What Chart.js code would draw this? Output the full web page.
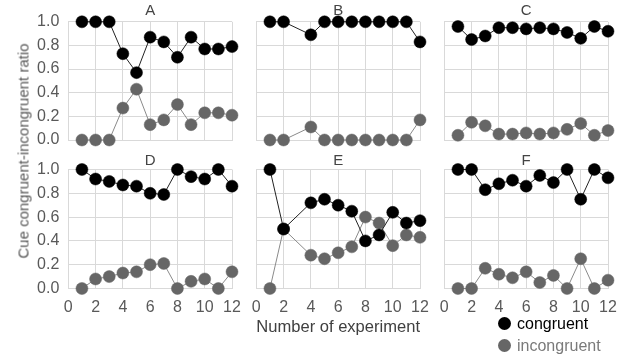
<!DOCTYPE html>
<html>
<head>
<meta charset="utf-8">
<script src="https://cdn.jsdelivr.net/npm/chart.js@4.4.1/dist/chart.umd.min.js"></script>
<style>
  body { margin: 0; width: 629px; height: 356px; background: #fff; position: relative; overflow: hidden;
         font-family: "Liberation Sans", Arial, sans-serif; }
  canvas { position: absolute; }
  .ytitle { position: absolute; left: 23px; top: 151px; transform: translate(-50%, -50%) rotate(-90deg);
            white-space: nowrap; font-size: 15px; color: #595959; }
  .legend-item { position: absolute; left: 498px; height: 16px; line-height: 16px; font-size: 16px; white-space: nowrap; }
  .legend-item span { display: inline-block; width: 13px; height: 13px; border-radius: 50%; vertical-align: -1px; margin-right: 6px; }
</style>
</head>
<body>
<canvas id="panelA" width="234" height="160" style="left:18px;top:0px"></canvas>
<canvas id="panelB" width="234" height="160" style="left:206px;top:0px"></canvas>
<canvas id="panelC" width="234" height="160" style="left:394px;top:0px"></canvas>
<canvas id="panelD" width="234" height="189" style="left:18px;top:150px"></canvas>
<canvas id="panelE" width="234" height="189" style="left:206px;top:150px"></canvas>
<canvas id="panelF" width="234" height="189" style="left:394px;top:150px"></canvas>
<div class="ytitle">Cue congruent-incongruent ratio</div>
<div id="legend"></div>
<script>
const experiments = [1, 2, 3, 4, 5, 6, 7, 8, 9, 10, 11, 12];
const xTicks = [0, 2, 4, 6, 8, 10, 12];
const yTicks = [0, 0.2, 0.4, 0.6, 0.8, 1.0];
const seriesNames = ["congruent", "incongruent"];
const panelNames = ["A", "B", "C", "D", "E", "F"];

const congruentA = [1, 1, 1, 0.73, 0.57, 0.87, 0.83, 0.70, 0.87, 0.77, 0.77, 0.79];
const incongruentA = [0, 0, 0, 0.27, 0.43, 0.13, 0.17, 0.30, 0.13, 0.23, 0.23, 0.21];
const congruentB = [1, 1, null, 0.89, 1, 1, 1, 1, 1, 1, 1, 0.83];
const incongruentB = [0, 0, null, 0.11, 0, 0, 0, 0, 0, 0, 0, 0.17];
const congruentC = [0.96, 0.85, 0.88, 0.95, 0.95, 0.94, 0.95, 0.94, 0.91, 0.86, 0.96, 0.92];
const incongruentC = [0.04, 0.15, 0.12, 0.05, 0.05, 0.06, 0.05, 0.06, 0.09, 0.14, 0.04, 0.08];
const congruentD = [1, 0.92, 0.90, 0.87, 0.86, 0.80, 0.79, 1, 0.94, 0.92, 1, 0.86];
const incongruentD = [0, 0.08, 0.10, 0.13, 0.14, 0.20, 0.21, 0, 0.06, 0.08, 0, 0.14];
const congruentE = [1, 0.5, null, 0.72, 0.75, 0.70, 0.65, 0.40, 0.45, 0.64, 0.55, 0.57];
const incongruentE = [0, 0.5, null, 0.28, 0.25, 0.30, 0.35, 0.60, 0.55, 0.36, 0.45, 0.43];
const congruentF = [1, 1, 0.83, 0.88, 0.91, 0.86, 0.95, 0.89, 1, 0.75, 1, 0.93];
const incongruentF = [0, 0, 0.17, 0.12, 0.09, 0.14, 0.05, 0.11, 0, 0.25, 0, 0.07];

const pointColors = ["#000000", "#666666"];
const lineColors = ["#222222", "#8a8a8a"];
const textColors = ["#000000", "#7a7a7a"];
const gridColor = "#d9d9d9";
const tickColor = "#595959";

Chart.defaults.font.family = '"Liberation Sans", Arial, sans-serif';
Chart.defaults.color = tickColor;

function toPoints(values) {
  return experiments.map((x, i) => ({ x: x, y: values[i] }));
}

function makeDataset(index, values) {
  return {
    label: seriesNames[index],
    data: toPoints(values),
    borderColor: lineColors[index],
    borderWidth: 1,
    pointRadius: 6,
    pointHoverRadius: 6,
    pointBorderWidth: 0.5,
    pointBackgroundColor: pointColors[index],
    pointBorderColor: pointColors[index],
    spanGaps: true,
    tension: 0,
    clip: false,
  };
}

function renderPanel(id, title, congruent, incongruent, opts) {
  new Chart(document.getElementById(id), {
    type: "line",
    data: {
      datasets: [makeDataset(0, congruent), makeDataset(1, incongruent)],
    },
    options: {
      responsive: false,
      animation: false,
      layout: { padding: { left: 0, right: 20, top: 0, bottom: 0 } },
      plugins: {
        legend: { display: false },
        tooltip: { enabled: false },
        title: {
          display: true,
          text: title,
          fullSize: false,
          color: "#444444",
          font: { size: 15, weight: "normal", lineHeight: 1.2 },
          padding: opts.titlePadding,
        },
      },
      scales: {
        x: {
          type: "linear",
          min: 0,
          max: 12,
          afterBuildTicks: (scale) => {
            scale.ticks = xTicks.map((v) => ({ value: v }));
          },
          afterFit: (scale) => {
            scale.height = opts.xHeight;
          },
          ticks: {
            display: opts.showX,
            padding: 9,
            color: tickColor,
            font: { size: 16 },
            maxRotation: 0,
          },
          grid: { color: gridColor, drawTicks: false },
          border: { color: gridColor },
          title: {
            display: !!opts.xTitle,
            text: opts.xTitle || "",
            color: "#404040",
            font: { size: 17 },
            padding: { top: 0, bottom: 1.5 },
          },
        },
        y: {
          min: 0,
          max: 1,
          afterBuildTicks: (scale) => {
            scale.ticks = yTicks.map((v) => ({ value: v }));
          },
          afterFit: (scale) => {
            scale.width = 50.3;
          },
          ticks: {
            display: opts.showY,
            padding: 9,
            color: tickColor,
            font: { size: 16 },
            callback: (value) => value.toFixed(1),
          },
          grid: { color: gridColor, drawTicks: false },
          border: { color: gridColor },
        },
      },
    },
  });
}

const topRow = { titlePadding: { top: 1.5, bottom: 2.3 }, xHeight: 20, showX: false };
const bottomRow = { titlePadding: { top: 1.5, bottom: 0 }, xHeight: 50.5, showX: true };

renderPanel("panelA", panelNames[0], congruentA, incongruentA, { ...topRow, showY: true });
renderPanel("panelB", panelNames[1], congruentB, incongruentB, { ...topRow, showY: false });
renderPanel("panelC", panelNames[2], congruentC, incongruentC, { ...topRow, showY: false });
renderPanel("panelD", panelNames[3], congruentD, incongruentD, { ...bottomRow, showY: true });
renderPanel("panelE", panelNames[4], congruentE, incongruentE, { ...bottomRow, showY: false, xTitle: "Number of experiment" });
renderPanel("panelF", panelNames[5], congruentF, incongruentF, { ...bottomRow, showY: false });

// legend, stacked like the original
const legend = document.getElementById("legend");
seriesNames.forEach((name, i) => {
  const item = document.createElement("div");
  item.className = "legend-item";
  item.style.top = 316 + i * 22 + "px";
  item.style.color = textColors[i];
  item.innerHTML = `<span style="background:${pointColors[i]}"></span>${name}`;
  legend.append(item);
});
</script>
</body>
</html>
